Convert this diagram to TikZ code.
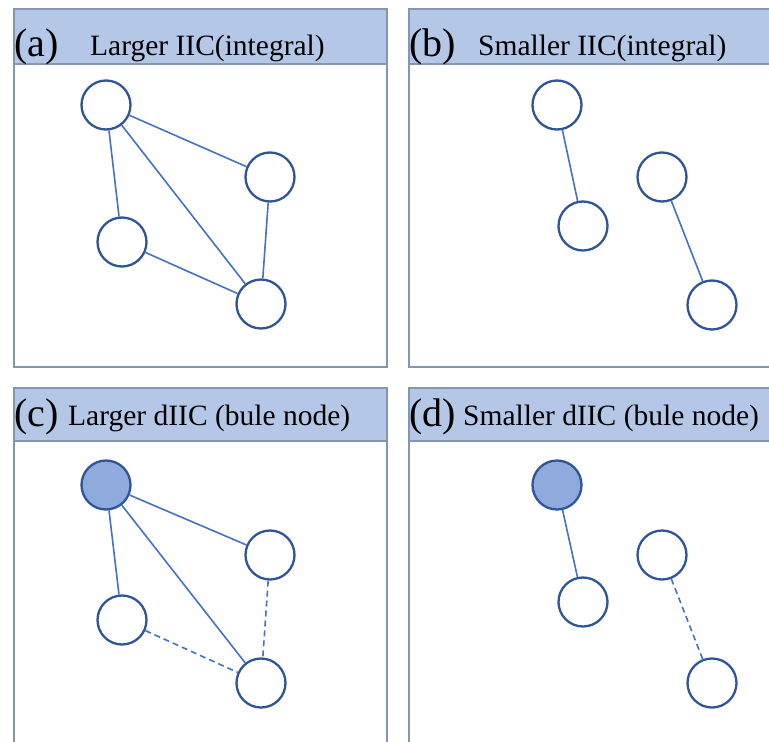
\documentclass[tikz,border=0pt]{standalone}
\usepackage{fontspec}
\setmainfont{Liberation Serif}
\definecolor{hdr}{HTML}{B4C7E7}
\definecolor{frm}{HTML}{8497B0}
\definecolor{ring}{HTML}{2F5597}
\definecolor{edge}{HTML}{4472C4}
\definecolor{hub}{HTML}{8FAADC}
\begin{document}
\begin{tikzpicture}[x=1pt,y=-1pt,
  vert/.style={circle,draw=ring,line width=2.3pt,fill=white,minimum size=49pt,inner sep=0pt},
  hubvert/.style={vert,fill=hub},
  link/.style={draw=edge,line width=1.6pt},
  dlink/.style={link,dash pattern=on 6pt off 4pt},
  panel/.style={draw=frm,line width=1.4pt,fill=white},
  header/.style={draw=frm,line width=1.4pt,fill=hdr},
  tag/.style={anchor=base west,inner sep=0pt,font=\fontsize{40}{44}\selectfont},
  ttl/.style={anchor=base west,inner sep=0pt,font=\fontsize{29.5}{34}\selectfont}]
\useasboundingbox (0,0) rectangle (769,742);
\clip (0,0) rectangle (769,742);
% panels
\path[panel] (14,64) rectangle (387,367);
\path[header] (14,9) rectangle (387,64);
\path[panel] (409,64) rectangle (780,367);
\path[header] (409,9) rectangle (780,64);
\path[panel] (14,441) rectangle (387,760);
\path[header] (14,388) rectangle (387,441);
\path[panel] (409,441) rectangle (780,760);
\path[header] (409,388) rectangle (780,441);
% titles
\node[tag] (ta) at (14,56) {(a)};
\node[ttl] (sa) at (90,55) {Larger IIC(integral)};
\node[tag] (tb) at (409,56) {(b)};
\node[ttl] (sb) at (478,55) {Smaller IIC(integral)};
\node[tag] (tc) at (14,426) {(c)};
\node[ttl] (sc) at (68,425) {Larger dIIC (bule node)};
\node[tag] (td) at (409,426) {(d)};
\node[ttl] (sd) at (463,425) {Smaller dIIC (bule node)};
% panel a
\node[vert] (a1) at (106,105) {};
\node[vert] (a2) at (270,177) {};
\node[vert] (a3) at (122,242) {};
\node[vert] (a4) at (261,304) {};
\draw[link] (a1) -- (a2);
\draw[link] (a1) -- (a3);
\draw[link] (a1) -- (a4);
\draw[link] (a2) -- (a4);
\draw[link] (a3) -- (a4);
% panel b
\node[vert] (b1) at (557,105) {};
\node[vert] (b2) at (583,226) {};
\node[vert] (b3) at (662,177) {};
\node[vert] (b4) at (712,305) {};
\draw[link] (b1) -- (b2);
\draw[link] (b3) -- (b4);
% panel c
\node[hubvert] (c1) at (106,485) {};
\node[vert] (c2) at (270,555) {};
\node[vert] (c3) at (122,620) {};
\node[vert] (c4) at (261,683) {};
\draw[link] (c1) -- (c2);
\draw[link] (c1) -- (c3);
\draw[link] (c1) -- (c4);
\draw[dlink] (c2) -- (c4);
\draw[dlink] (c3) -- (c4);
% panel d
\node[hubvert] (d1) at (557,485) {};
\node[vert] (d2) at (583,602) {};
\node[vert] (d3) at (662,555) {};
\node[vert] (d4) at (712,683) {};
\draw[link] (d1) -- (d2);
\draw[dlink] (d3) -- (d4);
\end{tikzpicture}
\end{document}
